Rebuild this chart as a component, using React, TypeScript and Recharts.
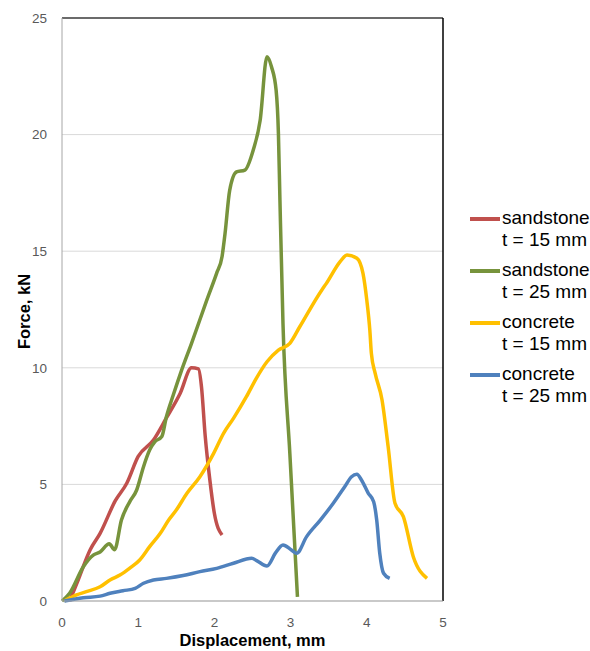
import React from 'react';
import { LineChart, Line, XAxis, YAxis, CartesianGrid, ReferenceLine } from 'recharts';

// displacement (mm) / force (kN)
const sandstone15 = [
  { x: 0.1, y: 0 }, { x: 0.2, y: 0.8 }, { x: 0.37, y: 2.2 }, { x: 0.5, y: 2.9 }, { x: 0.7, y: 4.3 },
  { x: 0.85, y: 5.05 }, { x: 1.0, y: 6.2 }, { x: 1.2, y: 6.9 }, { x: 1.37, y: 7.85 }, { x: 1.55, y: 8.9 },
  { x: 1.7, y: 10.0 }, { x: 1.79, y: 9.95 }, { x: 1.83, y: 9.2 }, { x: 1.88, y: 7.05 }, { x: 1.94, y: 5.2 },
  { x: 2.0, y: 3.75 }, { x: 2.1, y: 2.83 },
];

const sandstone25 = [
  { x: 0, y: 0 }, { x: 0.1, y: 0.33 }, { x: 0.28, y: 1.47 }, { x: 0.41, y: 1.97 }, { x: 0.5, y: 2.1 },
  { x: 0.62, y: 2.45 }, { x: 0.69, y: 2.2 }, { x: 0.78, y: 3.47 }, { x: 0.89, y: 4.26 }, { x: 0.98, y: 4.76 },
  { x: 1.07, y: 5.76 }, { x: 1.15, y: 6.47 }, { x: 1.22, y: 6.83 }, { x: 1.31, y: 7.05 }, { x: 1.37, y: 7.9 },
  { x: 1.46, y: 8.83 }, { x: 1.57, y: 9.9 }, { x: 1.7, y: 11.05 }, { x: 1.9, y: 12.9 }, { x: 2.03, y: 14.06 },
  { x: 2.1, y: 14.76 }, { x: 2.14, y: 15.77 }, { x: 2.2, y: 17.6 }, { x: 2.29, y: 18.4 }, { x: 2.4, y: 18.48 },
  { x: 2.51, y: 19.34 }, { x: 2.6, y: 20.6 }, { x: 2.69, y: 23.34 }, { x: 2.75, y: 22.9 }, { x: 2.81, y: 21.9 },
  { x: 2.84, y: 20.06 }, { x: 2.86, y: 17.2 }, { x: 2.9, y: 11.9 }, { x: 2.99, y: 6.33 }, { x: 3.09, y: 0.18 },
];

const concrete15 = [
  { x: 0.03, y: 0 }, { x: 0.19, y: 0.26 }, { x: 0.32, y: 0.4 }, { x: 0.5, y: 0.61 }, { x: 0.63, y: 0.9 },
  { x: 0.76, y: 1.11 }, { x: 0.89, y: 1.41 }, { x: 1.02, y: 1.76 }, { x: 1.15, y: 2.33 }, { x: 1.29, y: 2.9 },
  { x: 1.4, y: 3.47 }, { x: 1.5, y: 3.9 }, { x: 1.64, y: 4.62 }, { x: 1.81, y: 5.33 }, { x: 1.99, y: 6.33 },
  { x: 2.12, y: 7.19 }, { x: 2.25, y: 7.83 }, { x: 2.42, y: 8.76 }, { x: 2.55, y: 9.55 }, { x: 2.69, y: 10.26 },
  { x: 2.84, y: 10.76 }, { x: 2.99, y: 11.05 }, { x: 3.12, y: 11.76 }, { x: 3.41, y: 13.34 }, { x: 3.47, y: 13.62 },
  { x: 3.65, y: 14.55 }, { x: 3.74, y: 14.84 }, { x: 3.87, y: 14.7 }, { x: 3.95, y: 14.05 }, { x: 4.0, y: 12.9 },
  { x: 4.04, y: 11.6 }, { x: 4.06, y: 10.62 }, { x: 4.11, y: 9.76 }, { x: 4.2, y: 8.62 }, { x: 4.28, y: 6.62 },
  { x: 4.37, y: 4.19 }, { x: 4.48, y: 3.62 }, { x: 4.61, y: 1.9 }, { x: 4.79, y: 0.97 },
];

const concrete25 = [
  { x: 0.03, y: 0 }, { x: 0.28, y: 0.14 }, { x: 0.5, y: 0.21 }, { x: 0.63, y: 0.33 }, { x: 0.8, y: 0.44 },
  { x: 0.96, y: 0.54 }, { x: 1.07, y: 0.76 }, { x: 1.2, y: 0.9 }, { x: 1.37, y: 0.97 }, { x: 1.59, y: 1.09 },
  { x: 1.81, y: 1.26 }, { x: 2.03, y: 1.4 }, { x: 2.25, y: 1.62 }, { x: 2.49, y: 1.83 }, { x: 2.56, y: 1.72 },
  { x: 2.69, y: 1.5 }, { x: 2.8, y: 2.05 }, { x: 2.9, y: 2.4 }, { x: 3.01, y: 2.19 }, { x: 3.08, y: 2.05 },
  { x: 3.21, y: 2.76 }, { x: 3.39, y: 3.47 }, { x: 3.56, y: 4.19 }, { x: 3.71, y: 4.9 }, { x: 3.8, y: 5.33 },
  { x: 3.87, y: 5.43 }, { x: 3.93, y: 5.19 }, { x: 4.02, y: 4.62 }, { x: 4.09, y: 4.26 }, { x: 4.13, y: 3.47 },
  { x: 4.17, y: 2.05 }, { x: 4.22, y: 1.19 }, { x: 4.3, y: 0.97 },
];

const xTicks = [0, 1, 2, 3, 4, 5];
const yTicks = [0, 5, 10, 15, 20, 25];

const series = [
  { name: 'sandstone', sub: 't = 15 mm', data: sandstone15, color: '#C0504D' },
  { name: 'sandstone', sub: 't = 25 mm', data: sandstone25, color: '#77933C' },
  { name: 'concrete', sub: 't = 15 mm', data: concrete15, color: '#FFC000' },
  { name: 'concrete', sub: 't = 25 mm', data: concrete25, color: '#4F81BD' },
];

const font = '"Liberation Sans", Arial, sans-serif';

const YLabel = (props: any) => {
  const { y, height } = props.viewBox;
  const cx = 24;
  const cy = y + height / 2 + 2;
  return (
    <text x={cx} y={cy} transform={`rotate(-90 ${cx} ${cy})`} textAnchor="middle" dominantBaseline="central"
      fontFamily={font} fontSize={16.5} fontWeight="bold" fill="#000">
      Force, kN
    </text>
  );
};

const XLabel = (props: any) => {
  const { x, width } = props.viewBox;
  return (
    <text x={x + width / 2} y={646} textAnchor="middle" fontFamily={font} fontSize={16.5} fontWeight="bold" fill="#000">
      Displacement, mm
    </text>
  );
};

export default function App() {
  return (
    <div style={{ position: 'absolute', left: 0, top: 0, width: 590, height: 651, background: '#fff', fontFamily: font }}>
      <LineChart width={590} height={651} margin={{ top: 18, right: 147, bottom: 0, left: 0 }}>
        <CartesianGrid vertical={false} stroke="#D9D9D9" />
        <XAxis type="number" dataKey="x" domain={[0, 5]} ticks={xTicks} height={50} tickLine={false}
          axisLine={{ stroke: '#A6A6A6' }} tick={{ fill: '#595959', fontSize: 13.5 }} tickMargin={10}
          label={<XLabel />} />
        <YAxis type="number" domain={[0, 25]} ticks={yTicks} width={62} tickLine={false}
          axisLine={{ stroke: '#A6A6A6' }} tick={{ fill: '#595959', fontSize: 13.5 }} tickMargin={9}
          label={<YLabel />} />
        <ReferenceLine y={25} stroke="#404040" strokeWidth={1.5} />
        <ReferenceLine x={5} stroke="#000" strokeWidth={1.5} />
        {series.map((s, i) => (
          <Line key={i} data={s.data} dataKey="y" type="monotone" stroke={s.color} strokeWidth={3.5}
            dot={false} isAnimationActive={false} />
        ))}
      </LineChart>
      <div style={{ position: 'absolute', left: 470, top: 207, fontSize: 19, lineHeight: '22px', color: '#000' }}>
        {series.map((s, i) => (
          <div key={i} style={{ position: 'relative', paddingLeft: 32, marginBottom: 8, whiteSpace: 'nowrap' }}>
            <span style={{ position: 'absolute', left: 0, top: 10, width: 30, height: 4, background: s.color }} />
            <div>{s.name}</div>
            <div>{s.sub}</div>
          </div>
        ))}
      </div>
    </div>
  );
}
